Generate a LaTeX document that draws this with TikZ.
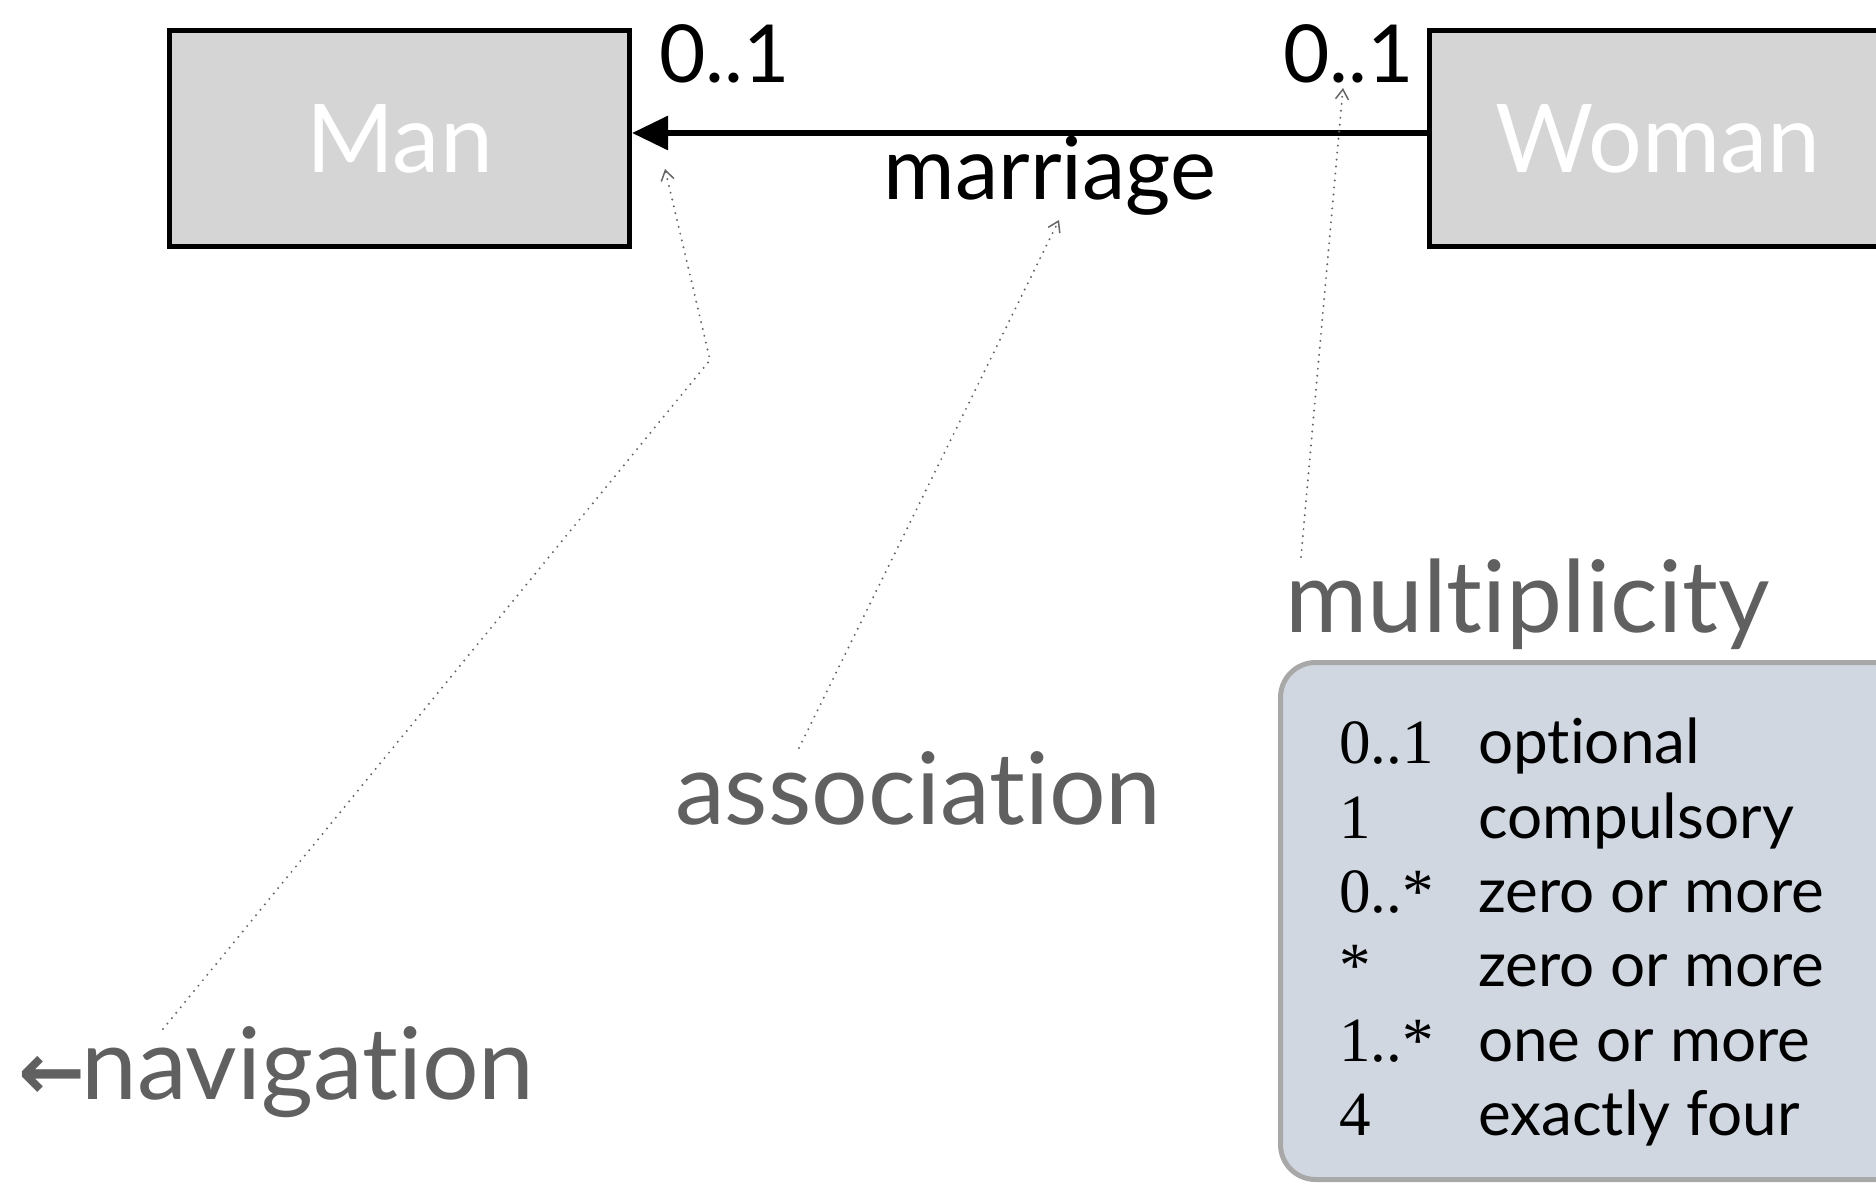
\documentclass[tikz,border=0pt]{standalone}
\usepackage{fontspec}
\setmainfont{Lato}[Ligatures={NoCommon,NoContextual}]
\newfontfamily\numfont{Liberation Serif}
\newfontfamily\arrowfont{DejaVu Sans}
\usetikzlibrary{arrows.meta}
\definecolor{boxfill}{HTML}{D5D5D5}
\definecolor{textgray}{HTML}{606060}
\definecolor{dotgray}{HTML}{666666}
\definecolor{legfill}{HTML}{D0D7E0}
\definecolor{legborder}{HTML}{A8A8A8}
\newcommand{\fs}[1]{\fontsize{#1}{#1}\selectfont}
\tikzset{
  classbox/.style={draw=black, line width=5pt, fill=boxfill, inner sep=0pt,
    text=white, font=\fs{95}, text depth=0pt},
  multlabel/.style={anchor=base west, inner sep=0pt, font=\fs{80}, text=black},
  assoclabel/.style={anchor=base, inner sep=0pt, font=\fs{87}, text=black},
  graylabel/.style={anchor=base west, inner sep=0pt, font=\fs{100}, text=textgray},
  notearrow/.style={draw=dotgray, line width=2.2pt, dash pattern=on 0pt off 7pt,
    line cap=round, -{Straight Barb[length=10pt,width=13pt,line width=1.5pt]}},
  legendbox/.style={draw=legborder, line width=5pt, fill=legfill, rounded corners=35pt},
  legnum/.style={anchor=base west, inner sep=0pt, font=\numfont\fs{63}, text=black},
  legdesc/.style={anchor=base west, inner sep=0pt, font=\fs{62}, text=black},
}
\begin{document}
\begin{tikzpicture}[x=1pt,y=-1pt]
\useasboundingbox (0,0) rectangle (1876,1185);
\fill[white] (0,0) rectangle (1876,1185);
\clip (0,0) rectangle (1876,1185);

% classes
\node[classbox, minimum width=460pt, minimum height=216pt] (man) at (399.5,138.5) {Man};
\node[classbox, minimum width=457pt, minimum height=216pt] (woman) at (1658,138.5) {Woman};

% association
\draw[line width=6pt, -{Triangle[length=36pt,width=33pt]}]
  ([yshift=5.5pt]woman.west) -- ([yshift=5.5pt]man.east);
\node[multlabel] (multman) at (659,83) {0..1};
\node[multlabel] (multwoman) at (1283,83) {0..1};
\node[assoclabel] (marriage) at (1050,200) {marriage};

% annotations
\node[graylabel] (navigation) at (18,1099) {{\arrowfont\bfseries\fs{80}←}\kern-4pt navigation};
\node[graylabel] (association) at (675,824) {association};
\node[graylabel] (multiplicity) at (1285,632) {multiplicity};

\coordinate (navstart) at (163,1029);
\coordinate (navbend) at (710,360);
\coordinate (navtip) at (665,169);
\coordinate (assocstart) at (799,748);
\coordinate (assoctip) at (1059,220);
\coordinate (multstart) at (1301,557);
\coordinate (multtip) at (1343,88);

\draw[notearrow] (navstart) -- (navbend) -- (navtip);
\draw[notearrow] (assocstart) -- (assoctip);
\draw[notearrow] (multstart) -- (multtip);

% legend
\draw[legendbox] (1280.5,662.5) rectangle (2000,1179.5);
\node[legnum] (n1) at (1339,763) {0..1};
\node[legdesc] (d1) at (1478,763) {optional};
\node[legnum] (n2) at (1339,838) {1};
\node[legdesc] (d2) at (1478,838) {compulsory};
\node[legnum] (n3) at (1339,912) {0..*};
\node[legdesc] (d3) at (1478,912) {zero or more};
\node[legnum] (n4) at (1339,986) {*};
\node[legdesc] (d4) at (1478,986) {zero or more};
\node[legnum] (n5) at (1339,1061) {1..*};
\node[legdesc] (d5) at (1478,1061) {one or more};
\node[legnum] (n6) at (1339,1135) {4};
\node[legdesc] (d6) at (1478,1135) {exactly four};
\end{tikzpicture}
\end{document}
